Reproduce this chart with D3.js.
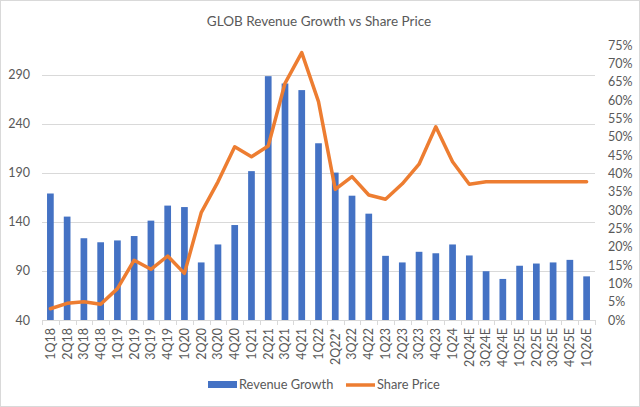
<!DOCTYPE html>
<html><head><meta charset="utf-8">
<script src="https://cdn.jsdelivr.net/npm/d3@7"></script>
<style>
html,body{margin:0;padding:0;background:#fff;}
svg{display:block;font-family:Lato,"Open Sans",sans-serif;}
</style></head>
<body>
<svg id="chart" width="640" height="407"></svg>
<script>
const categories = ["1Q18","2Q18","3Q18","4Q18","1Q19","2Q19","3Q19","4Q19","1Q20","2Q20","3Q20","4Q20",
  "1Q21","2Q21","3Q21","4Q21","1Q22","2Q22*","3Q22","4Q22","1Q23","2Q23","3Q23","4Q23",
  "1Q24","2Q24E","3Q24E","4Q24E","1Q25E","2Q25E","3Q25E","4Q25E","1Q26E"];
const revenueGrowth = [0.345,0.282,0.223,0.212,0.217,0.229,0.271,0.312,0.308,0.157,0.206,0.259,
  0.406,0.665,0.645,0.627,0.482,0.402,0.339,0.290,0.175,0.157,0.186,0.182,
  0.206,0.176,0.133,0.112,0.148,0.154,0.157,0.164,0.119];
const sharePrice = [51.5,57,58.7,56,72,101,91.7,105.3,87.6,149.5,181,216.8,
  206.6,217.6,281.5,312.8,262.8,173.3,186.3,167.6,163.2,179,199,237.2,
  201.5,178.5,181.1,181.1,181.1,181.1,181.1,181.1,181.1];
const leftTicks = [40,90,140,190,240,290];
const rightTicks = d3.range(0,16).map(i=>i*0.05);
const title = "GLOB Revenue Growth vs Share Price";
const seriesNames = ["Revenue Growth","Share Price"];

const svg = d3.select("#chart");
const W=640,H=407;
const plot = {l:42, r:595, t:45, b:320};
const textColor = "#595959", gridColor = "#d9d9d9";
const barColor = "#4472C4", lineColor = "#ED7D31";

svg.append("rect").attr("x",0.5).attr("y",0.5).attr("width",W-1).attr("height",H-1)
  .attr("fill","#fff").attr("stroke","#d9d9d9");

const x = d3.scaleBand().domain(categories).range([plot.l,plot.r]).padding(0);
const yL = d3.scaleLinear().domain([40,320.6]).range([plot.b,plot.t]);
const yR = d3.scaleLinear().domain([0,0.75]).range([plot.b,plot.t]);

// gridlines
svg.append("g").selectAll("line").data(leftTicks.slice(1)).join("line")
  .attr("x1",plot.l).attr("x2",plot.r)
  .attr("y1",d=>Math.round(yL(d))+0.5).attr("y2",d=>Math.round(yL(d))+0.5)
  .attr("stroke",gridColor).attr("stroke-width",1);

// left axis labels
const gL = svg.append("g").attr("transform",`translate(${plot.l},0)`)
  .call(d3.axisLeft(yL).tickValues(leftTicks).tickSize(0).tickPadding(12));
gL.select(".domain").remove();
gL.selectAll("text").attr("fill",textColor).style("font-size","12.5px").style("font-family","Lato");

// right axis labels
const gR = svg.append("g").attr("transform",`translate(${plot.r},0)`)
  .call(d3.axisRight(yR).tickValues(rightTicks).tickFormat(d3.format(".0%")).tickSize(0).tickPadding(13));
gR.select(".domain").remove();
gR.selectAll("text").attr("fill",textColor).style("font-size","12.5px").style("font-family","Lato");

// bars
const bw = x.bandwidth()*0.4;
svg.append("g").selectAll("rect").data(categories).join("rect")
  .attr("x",(d)=>x(d)+x.bandwidth()/2-bw/2)
  .attr("width",bw)
  .attr("y",(d,i)=>yR(revenueGrowth[i]))
  .attr("height",(d,i)=>plot.b-yR(revenueGrowth[i]))
  .attr("fill",barColor);

// x axis
const gX = svg.append("g").attr("transform",`translate(0,${plot.b})`)
  .call(d3.axisBottom(x).tickSize(0).tickPadding(0));
gX.select(".domain").attr("stroke",gridColor).attr("d",`M${plot.l},0.5H${plot.r}`);
gX.selectAll(".tick text")
  .attr("fill",textColor).style("font-size","12.5px").style("font-family","Lato")
  .attr("transform","rotate(-90)")
  .attr("text-anchor","end").attr("x",-8).attr("y",0).attr("dy","0.35em");
// tick marks between categories
svg.append("g").selectAll("line").data(d3.range(categories.length+1)).join("line")
  .attr("x1",i=>Math.round(plot.l+i*x.step())+0.5).attr("x2",i=>Math.round(plot.l+i*x.step())+0.5)
  .attr("y1",plot.b).attr("y2",plot.b+5).attr("stroke",gridColor);

// line
const line = d3.line().x((d,i)=>x(categories[i])+x.bandwidth()/2).y(d=>yL(d));
svg.append("path").datum(sharePrice).attr("d",line)
  .attr("fill","none").attr("stroke",lineColor).attr("stroke-width",3.5)
  .attr("stroke-linejoin","round").attr("stroke-linecap","round");

// title
svg.append("text").attr("x",319).attr("y",21).attr("dy","0.35em")
  .attr("text-anchor","middle").attr("fill",textColor)
  .style("font-size","13.5px").style("font-family","Lato").text(title);

// legend
const lg = svg.append("g");
lg.append("rect").attr("x",208).attr("y",381).attr("width",29).attr("height",7).attr("fill",barColor);
lg.append("text").attr("x",239).attr("y",385).attr("dy","0.35em").attr("fill",textColor)
  .style("font-size","12.8px").text(seriesNames[0]);
lg.append("line").attr("x1",346).attr("x2",375).attr("y1",385).attr("y2",385)
  .attr("stroke",lineColor).attr("stroke-width",3.5);
lg.append("text").attr("x",377).attr("y",385).attr("dy","0.35em").attr("fill",textColor)
  .style("font-size","12.8px").text(seriesNames[1]);
</script>
</body></html>
